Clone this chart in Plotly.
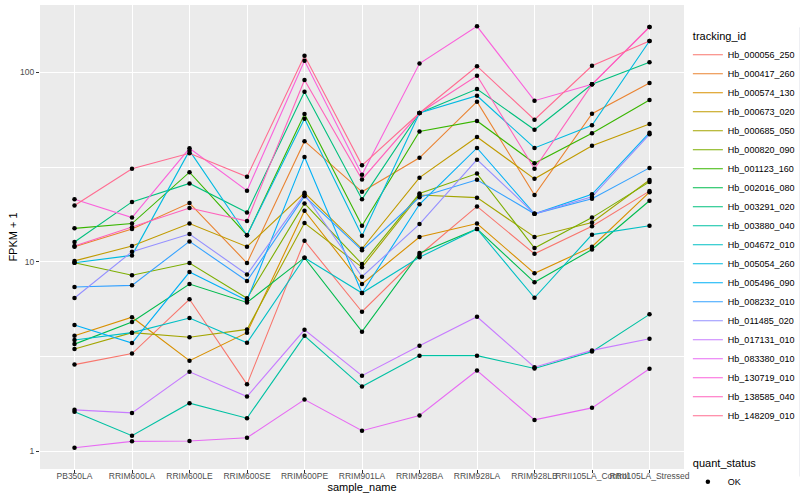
import plotly.graph_objects as go

samples = ["PB350LA", "RRIM600LA", "RRIM600LE", "RRIM600SE", "RRIM600PE", "RRIM901LA",
           "RRIM928BA", "RRIM928LA", "RRIM928LB", "RRII105LA_Control", "RRII105LA_Stressed"]

tracking_ids = ["Hb_000056_250", "Hb_000417_260", "Hb_000574_130", "Hb_000673_020", "Hb_000685_050",
                "Hb_000820_090", "Hb_001123_160", "Hb_002016_080", "Hb_003291_020", "Hb_003880_040",
                "Hb_004672_010", "Hb_005054_260", "Hb_005496_090", "Hb_008232_010", "Hb_011485_020",
                "Hb_017131_010", "Hb_083380_010", "Hb_130719_010", "Hb_138585_040", "Hb_148209_010"]

colors = ["#F8766D", "#EA8331", "#D89000", "#C09B00", "#A3A500", "#7CAE00", "#39B600", "#00BB4E",
          "#00BF7D", "#00C1A3", "#00BFC4", "#00BAE0", "#00B0F6", "#35A2FF", "#9590FF", "#C77CFF",
          "#E76BF3", "#FA62DB", "#FF62BC", "#FF6C91"]

# FPKM + 1 values per tracking_id (one value per sample)
Hb_000056_250 = [2.86, 3.27, 6.33, 2.25, 12.9, 5.44, 10.85, 19.6, 11.0, 15.4, 23.6]
Hb_000417_260 = [12.0, 14.9, 20.4, 9.84, 43.3, 23.4, 35.4, 70.0, 22.5, 60.5, 87.9]
Hb_000574_130 = [4.06, 5.09, 3.00, 4.22, 18.6, 7.62, 13.5, 15.9, 8.68, 12.0, 23.3]
Hb_000673_020 = [10.1, 12.1, 15.9, 12.0, 23.1, 11.7, 27.8, 45.6, 27.4, 41.0, 53.4]
Hb_000685_050 = [3.46, 4.22, 3.99, 4.39, 16.0, 9.34, 22.5, 21.8, 13.5, 16.1, 27.0]
Hb_000820_090 = [9.88, 8.48, 9.84, 6.41, 20.3, 9.72, 22.9, 29.2, 11.8, 17.1, 26.4]
Hb_001123_160 = [15.0, 15.9, 29.7, 13.8, 60.3, 15.5, 48.7, 55.4, 33.1, 47.7, 71.5]
Hb_002016_080 = [3.67, 4.80, 7.62, 6.09, 10.5, 4.27, 11.1, 14.9, 7.78, 11.6, 21.0]
Hb_003291_020 = [12.7, 20.7, 25.9, 18.2, 79.1, 21.4, 61.0, 81.7, 49.8, 86.5, 113.1]
Hb_003880_040 = [1.61, 1.205, 1.79, 1.49, 4.06, 2.19, 3.19, 3.19, 2.73, 3.35, 5.27]
Hb_004672_010 = [3.86, 4.22, 5.04, 3.73, 10.5, 6.83, 10.55, 14.9, 6.45, 13.9, 15.5]
Hb_005054_260 = [9.88, 10.8, 38.6, 13.8, 56.9, 13.7, 61.0, 75.3, 39.9, 52.5, 146.6]
Hb_005496_090 = [4.63, 3.72, 8.82, 6.24, 35.7, 6.83, 20.1, 39.9, 17.9, 22.7, 48.0]
Hb_008232_010 = [7.35, 7.50, 12.8, 7.91, 22.2, 11.5, 21.9, 27.1, 17.9, 21.5, 31.3]
Hb_011485_020 = [6.43, 11.3, 14.0, 8.56, 22.7, 8.33, 15.8, 34.6, 17.9, 22.0, 47.1]
Hb_017131_010 = [1.65, 1.59, 2.62, 1.94, 4.37, 2.50, 3.60, 5.12, 2.77, 3.40, 3.92]
Hb_083380_010 = [1.04, 1.125, 1.13, 1.175, 1.87, 1.28, 1.54, 2.66, 1.46, 1.69, 2.72]
Hb_130719_010 = [21.4, 17.1, 39.7, 23.7, 115.3, 28.8, 111.4, 175.2, 70.9, 86.5, 173.7]
Hb_138585_040 = [12.1, 15.2, 19.2, 16.4, 91.2, 27.2, 61.0, 96.1, 31.0, 86.5, 173.7]
Hb_148209_010 = [19.8, 31.0, 37.4, 28.1, 122.5, 32.3, 61.0, 107.8, 56.2, 108.4, 146.6]

series = [Hb_000056_250, Hb_000417_260, Hb_000574_130, Hb_000673_020, Hb_000685_050,
          Hb_000820_090, Hb_001123_160, Hb_002016_080, Hb_003291_020, Hb_003880_040,
          Hb_004672_010, Hb_005054_260, Hb_005496_090, Hb_008232_010, Hb_011485_020,
          Hb_017131_010, Hb_083380_010, Hb_130719_010, Hb_138585_040, Hb_148209_010]

y_ticks = [1, 10, 100]
y_minor = [3.1623, 31.623]

FONT = "Liberation Sans, Arial, sans-serif"

fig = go.Figure()
for i, (name, vals, col) in enumerate(zip(tracking_ids, series, colors)):
    fig.add_trace(go.Scatter(
        x=samples, y=vals, mode="lines", name=name,
        line=dict(color=col, width=1.1),
        legendgroup="tracking_id",
        legendgrouptitle=dict(text="tracking_id", font=dict(size=11, color="black")) if i == 0 else None,
    ))

all_x = [s for _ in series for s in samples]
all_y = [v for vals in series for v in vals]
fig.add_trace(go.Scatter(
    x=all_x, y=all_y, mode="markers", name="OK",
    marker=dict(color="black", size=4.5, symbol="circle"),
    legendgroup="quant_status",
    legendgrouptitle=dict(text="quant_status", font=dict(size=11, color="black")),
))

fig.update_layout(
    width=800, height=500,
    margin=dict(l=40, r=116, t=5, b=31, autoexpand=False),
    paper_bgcolor="white", plot_bgcolor="#EBEBEB",
    font=dict(family=FONT, size=9, color="#4D4D4D"),
    showlegend=True,
    legend=dict(
        x=1.006, y=0.965, xanchor="left", yanchor="top",
        traceorder="grouped", tracegroupgap=28,
        font=dict(size=9, color="black"), itemwidth=30,
        bgcolor="rgba(0,0,0,0)",
    ),
)

fig.update_xaxes(
    type="category", categoryorder="array", categoryarray=samples,
    range=[-0.6, 10.6], tickangle=0,
    showgrid=True, gridcolor="white", gridwidth=1.1,
    ticks="outside", ticklen=3, tickcolor="#333333", tickwidth=1,
    ticklabelstandoff=-4,
    tickfont=dict(size=8.5, color="#4D4D4D"),
    title=dict(text="sample_name", font=dict(size=11, color="black"), standoff=2),
    showline=False, zeroline=False, automargin=False,
)
fig.update_yaxes(
    type="log", range=[-0.095, 2.356],
    tickvals=y_ticks, ticktext=[str(t) for t in y_ticks],
    showgrid=True, gridcolor="white", gridwidth=1.1,
    minor=dict(tickvals=y_minor, showgrid=True, gridcolor="white", gridwidth=0.55, ticks=""),
    ticks="outside", ticklen=3, tickcolor="#333333", tickwidth=1,
    tickfont=dict(size=8.5, color="#4D4D4D"),
    title=dict(text="FPKM + 1", font=dict(size=11, color="black"), standoff=0),
    showline=False, zeroline=False, automargin=False,
)

fig.write_html("out.html", config={"displayModeBar": False},
               post_script="document.body.style.margin='0';document.body.style.padding='0';")
